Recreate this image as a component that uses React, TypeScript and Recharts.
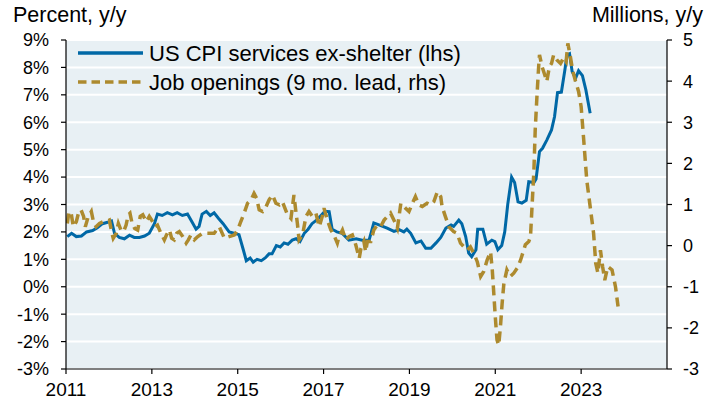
import React from "react";
import {
  ComposedChart,
  Line,
  XAxis,
  YAxis,
  CartesianGrid,
} from "recharts";

// US CPI services ex-shelter, % y/y (left axis)
const cpiDates = [
  2011.03, 2011.13, 2011.24, 2011.36, 2011.48, 2011.62, 2011.73, 2011.85, 2011.97,
  2012.06, 2012.13, 2012.24, 2012.36, 2012.48, 2012.59, 2012.71, 2012.83, 2012.94,
  2013.06, 2013.13, 2013.24, 2013.36, 2013.48, 2013.59, 2013.71, 2013.83, 2013.94,
  2014.03, 2014.1, 2014.17, 2014.27, 2014.36, 2014.45, 2014.55, 2014.66, 2014.8, 2014.92,
  2015.03, 2015.13, 2015.2, 2015.29, 2015.36, 2015.45, 2015.55, 2015.64, 2015.73, 2015.8, 2015.9, 2015.99,
  2016.08, 2016.17, 2016.27, 2016.36, 2016.45, 2016.55, 2016.64, 2016.73, 2016.85, 2016.94,
  2017.03, 2017.13, 2017.2, 2017.31, 2017.43, 2017.59, 2017.76, 2017.9,
  2018.06, 2018.17, 2018.29, 2018.48, 2018.64, 2018.76, 2018.87, 2018.94,
  2019.03, 2019.15, 2019.27, 2019.38, 2019.5, 2019.62, 2019.73, 2019.85, 2019.97,
  2020.03, 2020.15, 2020.22, 2020.31, 2020.38, 2020.45, 2020.55, 2020.59, 2020.71, 2020.8, 2020.92, 2020.99,
  2021.06, 2021.15, 2021.22, 2021.29, 2021.38, 2021.45, 2021.53, 2021.62, 2021.72, 2021.78, 2021.9, 2021.95,
  2022.03, 2022.1, 2022.2, 2022.31, 2022.38, 2022.45, 2022.54, 2022.62, 2022.67, 2022.73, 2022.79, 2022.87, 2022.94,
  2023.03, 2023.11, 2023.21,
];
const cpiValues = [
  1.83, 1.95, 1.83, 1.85, 2.0, 2.05, 2.15, 2.3, 2.35,
  2.4, 1.95, 1.8, 1.75, 1.88, 1.8, 1.8, 1.85, 1.95,
  2.3, 2.65, 2.6, 2.7, 2.62, 2.7, 2.6, 2.65, 2.35,
  2.1, 2.2, 2.65, 2.75, 2.6, 2.7, 2.5, 2.3, 2.0, 1.95,
  1.9, 1.35, 0.95, 1.05, 0.9, 1.0, 0.95, 1.05, 1.2, 1.2, 1.5, 1.45,
  1.6, 1.55, 1.7, 1.75, 1.65, 1.95, 2.1, 2.3, 2.45, 2.6,
  2.75, 2.74, 2.1, 2.0, 1.95, 1.7, 1.75, 1.7,
  1.7, 2.33, 2.26, 2.14, 2.02, 2.08, 2.0, 2.1,
  1.95, 1.6, 1.67, 1.4, 1.4, 1.6, 1.8, 2.14, 2.25,
  2.2, 2.43, 2.3, 1.83, 1.23, 1.1, 1.35, 2.1, 2.1, 1.55, 1.7, 1.65,
  1.35, 1.5, 2.0, 3.0, 4.0, 3.8, 3.1, 3.05, 3.15, 3.83, 3.8, 3.93,
  4.93, 5.05, 5.35, 5.72, 6.2, 7.08, 7.1, 7.9, 8.45, 8.5, 7.85, 7.6, 7.88,
  7.7, 7.18, 6.33,
];

// Job openings, millions y/y, 9 month lead (right axis)
const jobDates = [
  2011.03, 2011.07, 2011.12, 2011.17, 2011.24, 2011.3, 2011.35, 2011.41, 2011.45, 2011.52,
  2011.59, 2011.64, 2011.7, 2011.78, 2011.86, 2011.93,
  2012.01, 2012.07, 2012.1, 2012.17, 2012.22, 2012.28, 2012.34, 2012.4, 2012.45, 2012.49,
  2012.54, 2012.6, 2012.67, 2012.73, 2012.79, 2012.87, 2012.94,
  2013.02, 2013.07, 2013.13, 2013.21, 2013.29, 2013.34, 2013.41, 2013.46, 2013.52, 2013.58,
  2013.64, 2013.72, 2013.8, 2013.85, 2013.91, 2013.99,
  2014.07, 2014.18, 2014.34, 2014.45, 2014.57, 2014.69, 2014.8, 2014.92,
  2015.0, 2015.07, 2015.15, 2015.23, 2015.31, 2015.38, 2015.44, 2015.5, 2015.58, 2015.66,
  2015.73, 2015.81, 2015.89, 2015.97,
  2016.04, 2016.16, 2016.24, 2016.31, 2016.35, 2016.39, 2016.43, 2016.51, 2016.59, 2016.66,
  2016.74, 2016.82, 2016.9, 2016.97,
  2017.01, 2017.09, 2017.17, 2017.24, 2017.32, 2017.36, 2017.44, 2017.52, 2017.59, 2017.67,
  2017.75, 2017.83, 2017.87, 2017.94, 2017.98,
  2018.02, 2018.1, 2018.17, 2018.25, 2018.33, 2018.41, 2018.48, 2018.56, 2018.64, 2018.72,
  2018.8, 2018.91, 2018.99,
  2019.07, 2019.14, 2019.22, 2019.3, 2019.41, 2019.49, 2019.57, 2019.65, 2019.73, 2019.76,
  2019.84, 2019.92,
  2020.03, 2020.11, 2020.19, 2020.27, 2020.34, 2020.42, 2020.5, 2020.58, 2020.66, 2020.73,
  2020.81, 2020.89, 2020.93, 2020.97,
  2021.0, 2021.04, 2021.08, 2021.12, 2021.16, 2021.2, 2021.27, 2021.35, 2021.43, 2021.51,
  2021.59, 2021.7, 2021.78, 2021.82, 2021.86, 2021.9, 2021.93, 2021.97,
  2022.01, 2022.03, 2022.09, 2022.14, 2022.2, 2022.26, 2022.31, 2022.36, 2022.44, 2022.52,
  2022.59, 2022.65, 2022.69, 2022.75, 2022.8, 2022.87, 2022.94,
  2023.0, 2023.06, 2023.13, 2023.21, 2023.29, 2023.34, 2023.39, 2023.45, 2023.5, 2023.55,
  2023.62, 2023.72, 2023.8, 2023.86,
];
const jobValues = [
  0.54, 0.83, 0.79, 0.46, 0.58, 0.83, 0.87, 0.71, 0.46, 0.71,
  0.83, 0.58, 0.46, 0.54, 0.58, 0.58,
  0.62, 0.3, 0.18, 0.3, 0.54, 0.38, 0.34, 0.5, 0.75, 0.79,
  0.54, 0.42, 0.38, 0.71, 0.75, 0.58, 0.71,
  0.58, 0.46, 0.5, 0.3, 0.14, 0.26, 0.38, 0.18, 0.14, 0.3,
  0.34, 0.22, 0.06, 0.14, 0.26, 0.14,
  0.22, 0.3, 0.3, 0.3, 0.46, 0.18, 0.22, 0.26,
  0.38, 0.58, 0.79, 1.03, 1.11, 1.27, 1.15, 0.87, 0.83, 0.95,
  1.11, 1.23, 1.03, 0.99,
  1.07, 0.75, 0.66, 1.23, 0.87, 0.54, 0.14, 0.26, 0.71, 0.83,
  0.71, 0.79, 0.46, 0.71,
  0.91, 0.62, 0.38, 0.26, 0.06, 0.22, 0.38, 0.14, 0.22, 0.26,
  0.02, -0.31, -0.07, 0.1, -0.15,
  0.1, 0.1, 0.38, 0.5, 0.46, 0.62, 0.7, 0.79, 0.62, 0.42,
  1.03, 0.91, 0.83,
  1.03, 1.19, 0.99, 0.95, 1.03, 0.99, 1.07, 1.31, 1.19, 0.95,
  0.7, 0.46,
  0.34, 0.3, 0.06, -0.03, -0.11, -0.03, -0.19, -0.39, -0.75, -0.63,
  -0.35, -0.15, -0.59, -1.24,
  -1.73, -2.29, -2.42, -1.97, -1.4, -0.92, -0.59, -0.75, -0.67, -0.55,
  -0.35, 0.02, 0.1, 0.22, 1.03, 1.84, 2.81, 3.62,
  4.35, 4.64, 4.35, 4.19, 3.99, 4.35, 4.43, 4.64, 4.51, 4.43,
  4.56, 4.47, 4.92, 4.59, 4.27, 3.99, 3.75,
  3.38, 2.57, 1.6, 0.95, 0.3, -0.43, -0.67, -0.11, -0.51, -0.84,
  -0.51, -0.59, -1.0, -1.48,
];

const xTicks = [2011, 2013, 2015, 2017, 2019, 2021, 2023];
const leftTicks = [-3, -2, -1, 0, 1, 2, 3, 4, 5, 6, 7, 8, 9];
const rightTicks = [-3, -2, -1, 0, 1, 2, 3, 4, 5];

const cpiLabel = "US CPI services ex-shelter (lhs)";
const jobLabel = "Job openings (9 mo. lead, rhs)";
const leftTitle = "Percent, y/y";
const rightTitle = "Millions, y/y";

const BLUE = "#0068A6";
const GOLD = "#AD8A2E";
const FONT = '"Liberation Sans", Arial, sans-serif';

const cpiData = cpiDates.map((t, i) => ({ t, v: cpiValues[i] }));
const jobData = jobDates.map((t, i) => ({ t, v: jobValues[i] }));

export default function App() {
  const tickStyle = { fontSize: 18, fill: "#000", fontFamily: FONT };
  return (
    <div
      style={{
        position: "absolute",
        left: 0,
        top: 0,
        width: 717,
        height: 407,
        fontFamily: FONT,
        background: "#fff",
      }}
    >
      <ComposedChart
        width={717}
        height={407}
        margin={{ top: 40, right: 0, bottom: 0, left: 0 }}
      >
        <CartesianGrid
          yAxisId="left"
          vertical={false}
          stroke="#ffffff"
          strokeWidth={2}
          fill="#E8F0F4"
          fillOpacity={1}
        />
        <XAxis
          type="number"
          dataKey="t"
          domain={[2011, 2025]}
          ticks={xTicks}
          interval={0}
          height={38}
          tickSize={5}
          tickMargin={9}
          axisLine={{ stroke: "#000", strokeWidth: 1.2 }}
          tickLine={{ stroke: "#000", strokeWidth: 1.2 }}
          tick={{ ...tickStyle, fontSize: 19 }}
          allowDataOverflow
        />
        <YAxis
          yAxisId="left"
          orientation="left"
          domain={[-3, 9]}
          ticks={leftTicks}
          interval={0}
          width={66}
          tickSize={5}
          tickMargin={12}
          tickFormatter={(v: number) => `${v}%`}
          axisLine={{ stroke: "#000", strokeWidth: 1.2 }}
          tickLine={{ stroke: "#000", strokeWidth: 1.2 }}
          tick={tickStyle}
          allowDataOverflow
        />
        <YAxis
          yAxisId="right"
          orientation="right"
          domain={[-3, 5]}
          ticks={rightTicks}
          interval={0}
          width={50}
          tickSize={5}
          tickMargin={11}
          axisLine={{ stroke: "#000", strokeWidth: 1.2 }}
          tickLine={{ stroke: "#000", strokeWidth: 1.2 }}
          tick={{ ...tickStyle, textAnchor: "start" }}
          allowDataOverflow
        />
        <Line
          yAxisId="left"
          data={cpiData}
          dataKey="v"
          type="linear"
          stroke={BLUE}
          strokeWidth={3}
          dot={false}
          activeDot={false}
          isAnimationActive={false}
          name={cpiLabel}
        />
        <Line
          yAxisId="right"
          data={jobData}
          dataKey="v"
          type="linear"
          stroke={GOLD}
          strokeWidth={3.5}
          strokeDasharray="10 6"
          dot={false}
          activeDot={false}
          isAnimationActive={false}
          name={jobLabel}
        />
      </ComposedChart>

      <svg
        width={717}
        height={407}
        style={{ position: "absolute", left: 0, top: 0, pointerEvents: "none" }}
      >
        <text x={13} y={22} fontSize={21.5} fill="#000" fontFamily={FONT}>
          {leftTitle}
        </text>
        <text x={703} y={22} fontSize={21.5} fill="#000" fontFamily={FONT} textAnchor="end">
          {rightTitle}
        </text>
        <line x1={78} y1={53} x2={143} y2={53} stroke={BLUE} strokeWidth={3.5} />
        <text x={149} y={61} fontSize={22} fill="#000" fontFamily={FONT}>
          {cpiLabel}
        </text>
        <line
          x1={78}
          y1={82}
          x2={143}
          y2={82}
          stroke={GOLD}
          strokeWidth={3.5}
          strokeDasharray="8.5 5"
        />
        <text x={149} y={90} fontSize={22} fill="#000" fontFamily={FONT}>
          {jobLabel}
        </text>
      </svg>
    </div>
  );
}
